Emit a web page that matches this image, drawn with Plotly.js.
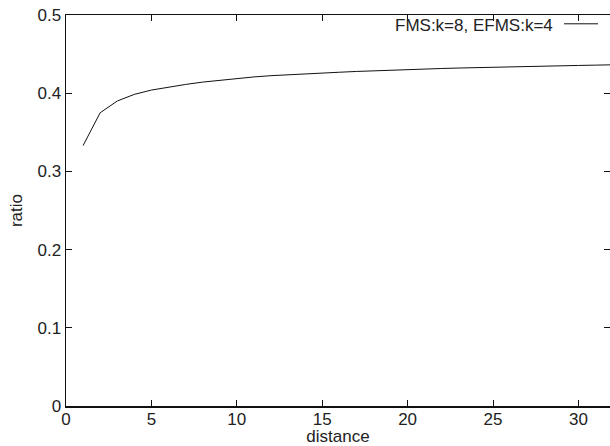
<!DOCTYPE html>
<html>
<head>
<meta charset="utf-8">
<script src="https://cdn.plot.ly/plotly-3.0.1.min.js"></script>
<style>html,body{margin:0;padding:0;background:#fff;}#chart{width:610px;height:446px;}</style>
</head>
<body>
<div id="chart"></div>
<script>
const seriesName = "FMS:k=8, EFMS:k=4";
const distance = [1,2,3,4,5,6,7,8,9,10,11,12,13,14,15,16,17,18,19,20,21,22,23,24,25,26,27,28,29,30,31,32];
const ratio = [0.333,0.375,0.390,0.3985,0.4040,0.4080,0.4112,0.4142,0.4167,0.4189,0.4208,0.4224,0.4237,0.4249,0.4259,0.4268,0.4278,0.4287,0.4295,0.4302,0.4309,0.4316,0.4322,0.4328,0.4333,0.4338,0.4343,0.4347,0.4351,0.4355,0.4359,0.4363];
const xTicks = [0,5,10,15,20,25,30];
const yTicks = [0,0.1,0.2,0.3,0.4,0.5];
const yTickText = ["0","0.1","0.2","0.3","0.4","0.5"];

const font = {family: "Liberation Sans, Arial, sans-serif", size: 17, color: "#222"};

const trace = {
  x: distance, y: ratio, type: "scatter", mode: "lines",
  name: seriesName, line: {color: "#111", width: 1}, showlegend: false
};

const axisCommon = {
  showgrid: false, zeroline: false, showline: true, linecolor: "#111", linewidth: 1.5,
  mirror: "ticks", ticks: "inside", ticklen: 6, tickwidth: 1, tickcolor: "#111",
  tickfont: font
};

const layout = {
  width: 610, height: 446,
  margin: {l: 66, r: 0, t: 15, b: 40},
  paper_bgcolor: "#fff", plot_bgcolor: "#fff",
  font: font,
  xaxis: Object.assign({}, axisCommon, {
    range: [0, 31.85], tickvals: xTicks, ticktext: xTicks.map(String),
    ticklabelstandoff: -3,
    title: {text: "distance", font: font, standoff: 2}
  }),
  yaxis: Object.assign({}, axisCommon, {
    range: [0, 0.5], tickvals: yTicks, ticktext: yTickText,
    title: {text: "ratio", font: font, standoff: 10}
  }),
  annotations: [{
    xref: "paper", yref: "paper", x: 0.8995, y: 0.972, xanchor: "right", yanchor: "middle",
    text: seriesName, showarrow: false, font: font
  }],
  shapes: [{
    type: "line", xref: "paper", yref: "paper", x0: 0.9155, x1: 0.978, y0: 0.9775, y1: 0.9775,
    line: {color: "#111", width: 1}
  }]
};

Plotly.newPlot("chart", [trace], layout, {displayModeBar: false, staticPlot: true});
</script>
</body>
</html>
